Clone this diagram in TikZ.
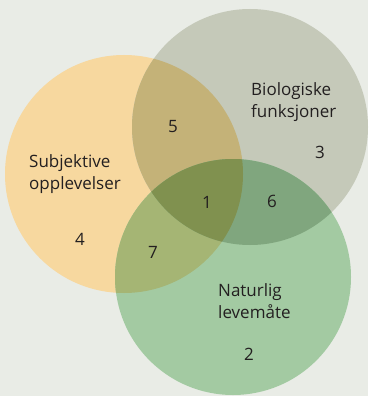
\documentclass[tikz,border=0pt]{standalone}
\usepackage{fontspec}
\setmainfont{Open Sans}
\definecolor{bg}{HTML}{E9ECE6}
\definecolor{cO}{HTML}{F7D89F}
\definecolor{cG}{HTML}{C5C9B9}
\definecolor{cN}{HTML}{A3CAA2}
\definecolor{cOG}{HTML}{C4B278}
\definecolor{cON}{HTML}{A5B574}
\definecolor{cGN}{HTML}{80A67E}
\definecolor{cOGN}{HTML}{80914F}
\definecolor{txt}{HTML}{231F20}
\begin{document}
\begin{tikzpicture}[x=1pt,y=-1pt,
  lbl/.style={text=txt,font=\fontsize{17}{22}\selectfont,inner sep=0pt},
  blk/.style={lbl,align=left,anchor=west}]
\fill[bg] (0,0) rectangle (368,396);
\useasboundingbox (0,0) rectangle (368,396);
\def\cO{(124,174) circle (119)}
\def\cG{(250,127) circle (118)}
\def\cN{(233,277) circle (118)}
\fill[cO] \cO;
\fill[cG] \cG;
\fill[cN] \cN;
\begin{scope}\clip \cO; \fill[cOG] \cG; \fill[cON] \cN; \end{scope}
\begin{scope}\clip \cG; \fill[cGN] \cN; \end{scope}
\begin{scope}\clip \cO; \clip \cG; \fill[cOGN] \cN; \end{scope}
\node[blk] (bio) at (251,102) {Biologiske\\funksjoner};
\node[blk] (sub) at (29,174) {Subjektive\\opplevelser};
\node[blk] (nat) at (218,301) {Naturlig\\levemåte};
\node[lbl] (n1) at (207,202) {1};
\node[lbl] (n2) at (249,354) {2};
\node[lbl] (n3) at (320,152) {3};
\node[lbl] (n4) at (80,239) {4};
\node[lbl] (n5) at (173,127) {5};
\node[lbl] (n6) at (272,201) {6};
\node[lbl] (n7) at (153,252) {7};
\end{tikzpicture}
\end{document}
